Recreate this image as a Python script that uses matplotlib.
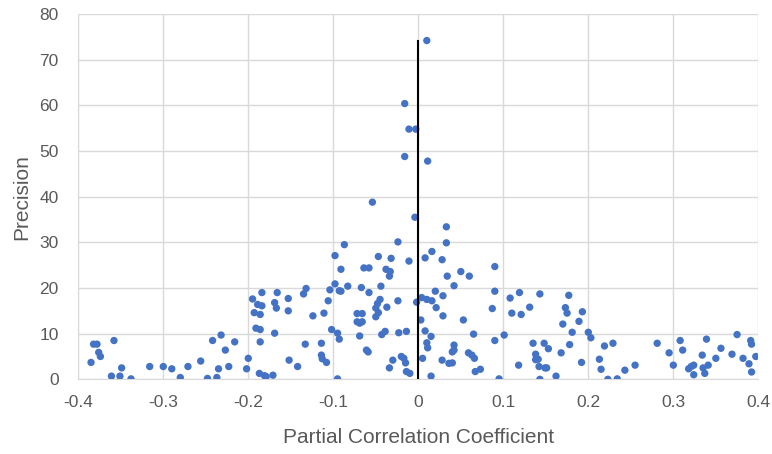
import matplotlib
matplotlib.use("Agg")
import matplotlib.pyplot as plt

# partial correlation coefficient (x) and precision (y)
pcc = [
    -0.385, -0.382, -0.378, -0.376, -0.374, -0.358, -0.361, -0.351, -0.349, -0.338,
    -0.316, -0.300, -0.290, -0.280, -0.271, -0.256, -0.248, -0.242, -0.232, -0.237,
    -0.235, -0.227, -0.223, -0.216, -0.200, -0.202,
    -0.195, -0.184, -0.189, -0.184, -0.193, -0.186, -0.191, -0.186, -0.186, -0.187,
    -0.181, -0.179, -0.171, -0.169, -0.166, -0.169, -0.167, -0.153, -0.153, -0.152,
    -0.142, -0.135, -0.132, -0.133, -0.124, -0.114, -0.114, -0.113, -0.108, -0.111,
    -0.106, -0.104, -0.098, -0.093, -0.091, -0.098, -0.087, -0.091, -0.083, -0.102,
    -0.095, -0.093, -0.095,
    -0.067, -0.064, -0.058, -0.058, -0.054, -0.072, -0.066, -0.072, -0.069, -0.066,
    -0.069, -0.061, -0.059, -0.047, -0.032, -0.038, -0.033, -0.034, -0.044, -0.045,
    -0.048, -0.050, -0.047, -0.050, -0.037, -0.024, -0.024, -0.011, -0.004, -0.002,
    -0.043, -0.039, -0.023, -0.014, -0.034, -0.030, -0.020, -0.017, -0.015, -0.014,
    -0.010, -0.016, -0.011, -0.003, -0.016, 0.010, 0.011,
    0.004, 0.010, 0.016, 0.008, 0.016, 0.028, 0.033, 0.033, 0.034, 0.042,
    0.050, 0.060, 0.020, 0.029, 0.021, 0.029, 0.053, 0.003, 0.008, 0.015,
    0.010, 0.011, 0.005, 0.015, 0.028, 0.036, 0.040, 0.042, 0.042, 0.040,
    0.065, 0.059, 0.063, 0.066, 0.067, 0.073,
    0.090, 0.090, 0.108, 0.119, 0.087, 0.110, 0.121, 0.131, 0.090, 0.101,
    0.095, 0.118, 0.143, 0.135, 0.148, 0.153, 0.138, 0.141, 0.138, 0.142,
    0.149, 0.151, 0.143, 0.162, 0.168, 0.178, 0.181, 0.170, 0.173, 0.175,
    0.177, 0.189, 0.193, 0.200, 0.203, 0.192, 0.213, 0.215, 0.219, 0.223,
    0.229, 0.234, 0.243, 0.255,
    0.281, 0.295, 0.300, 0.308, 0.311, 0.318, 0.321, 0.324, 0.324, 0.334,
    0.339, 0.335, 0.337, 0.341, 0.350, 0.356, 0.369, 0.375, 0.382, 0.389,
    0.391, 0.392, 0.392, 0.397,
]
precision = [
    3.7, 7.7, 7.7, 5.9, 5.0, 8.5, 0.7, 0.7, 2.5, 0.1,
    2.8, 2.8, 2.3, 0.4, 2.8, 4.0, 0.2, 8.5, 9.7, 0.4,
    2.3, 6.4, 2.8, 8.2, 4.6, 2.3,
    17.6, 19.0, 16.4, 16.1, 14.6, 14.2, 11.2, 10.9, 8.2, 1.3,
    0.8, 0.6, 0.9, 10.1, 19.0, 16.8, 15.6, 17.7, 15.0, 4.2,
    2.8, 18.7, 19.9, 7.7, 13.9, 7.9, 5.3, 4.5, 3.7, 14.5,
    17.2, 19.6, 20.9, 19.4, 19.3, 27.1, 29.5, 24.1, 20.4, 10.9,
    10.1, 8.8, 0.1,
    20.1, 24.4, 24.4, 19.0, 38.8, 14.4, 14.4, 12.6, 12.3, 12.6,
    9.5, 6.4, 6.0, 26.9, 26.5, 24.1, 23.6, 22.6, 20.4, 17.5,
    16.6, 15.6, 14.6, 13.7, 15.8, 17.2, 30.1, 25.9, 35.5, 16.9,
    9.8, 10.5, 10.2, 10.5, 2.5, 4.2, 5.0, 4.6, 3.6, 1.7,
    1.3, 60.4, 54.8, 54.8, 48.8, 74.2, 47.8,
    17.9, 17.5, 17.2, 26.6, 28.0, 26.2, 33.4, 29.9, 22.6, 20.5,
    23.6, 22.6, 19.3, 18.3, 15.7, 13.9, 13.0, 13.0, 10.6, 9.4,
    8.0, 6.9, 4.6, 0.7, 4.2, 3.5, 3.6, 7.5, 6.4, 6.0,
    9.9, 5.8, 5.3, 4.6, 1.7, 2.2,
    24.7, 19.3, 17.8, 19.0, 15.5, 14.5, 14.2, 15.8, 8.5, 9.7,
    0.1, 3.1, 18.7, 7.9, 7.9, 6.7, 5.5, 4.4, 4.3, 2.8,
    2.5, 2.5, 0.0, 0.7, 5.8, 7.6, 10.3, 12.1, 15.7, 14.5,
    18.4, 12.7, 14.8, 10.3, 9.1, 3.7, 4.4, 2.2, 7.3, 0.0,
    7.9, 0.1, 2.0, 3.1,
    7.9, 5.8, 3.1, 8.5, 6.4, 2.3, 2.8, 3.1, 1.0, 5.3,
    8.8, 2.5, 1.3, 3.1, 4.6, 6.8, 5.5, 9.8, 4.6, 3.4,
    8.5, 7.7, 1.6, 5.0,
]
x_ticks = [-0.4, -0.3, -0.2, -0.1, 0, 0.1, 0.2, 0.3, 0.4]
x_tick_labels = ["-0.4", "-0.3", "-0.2", "-0.1", "0", "0.1", "0.2", "0.3", "0.4"]
y_ticks = [0, 10, 20, 30, 40, 50, 60, 70, 80]
zero_line = [0, 74]   # vertical reference line at x = 0

plt.rcParams['font.family'] = ['Liberation Sans', 'DejaVu Sans']

fig = plt.figure(figsize=(7.72, 4.54), dpi=100)
ax = fig.add_axes([0.1014, 0.1645, 0.8809, 0.8045])

ax.scatter(pcc, precision, s=28, color='#4472C4', edgecolors='none', zorder=3)
ax.plot([0, 0], zero_line, color='black', linewidth=1.5, zorder=4)

ax.set_xlim(-0.4, 0.4)
ax.set_ylim(0, 80)
ax.set_xticks(x_ticks)
ax.set_xticklabels(x_tick_labels)
ax.set_yticks(y_ticks)
ax.grid(True, color='#d9d9d9', linewidth=1)
ax.set_axisbelow(True)
for side in ['top', 'right']:
    ax.spines[side].set_visible(False)
for side in ['left', 'bottom']:
    ax.spines[side].set_color('#d9d9d9')
ax.tick_params(length=0, colors='#595959', labelsize=12.5)
ax.tick_params(axis='x', pad=11)
ax.tick_params(axis='y', pad=14)

ax.set_xlabel('Partial Correlation Coefficient', fontsize=15, color='#595959', labelpad=13)
ax.set_ylabel('Precision', fontsize=15, color='#595959', labelpad=6)

fig.savefig('out.png', dpi=100)
